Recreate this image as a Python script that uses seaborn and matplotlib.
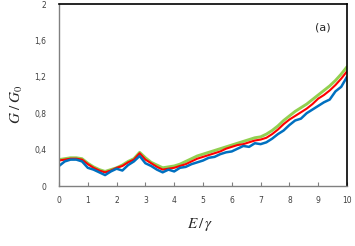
import matplotlib
matplotlib.use("Agg")
import matplotlib.pyplot as plt
import pandas as pd
import seaborn as sns

# E/gamma sample points
x_vals = [0.0, 0.2, 0.4, 0.6, 0.8, 1.0, 1.2, 1.4, 1.6, 1.8,
          2.0, 2.2, 2.4, 2.6, 2.8, 3.0, 3.2, 3.4, 3.6, 3.8,
          4.0, 4.2, 4.4, 4.6, 4.8, 5.0, 5.2, 5.4, 5.6, 5.8,
          6.0, 6.2, 6.4, 6.6, 6.8, 7.0, 7.2, 7.4, 7.6, 7.8,
          8.0, 8.2, 8.4, 8.6, 8.8, 9.0, 9.2, 9.4, 9.6, 9.8, 10.0]

g_green = [0.29, 0.30, 0.31, 0.31, 0.30, 0.25, 0.21, 0.18, 0.16, 0.18,
           0.20, 0.23, 0.27, 0.30, 0.37, 0.31, 0.26, 0.23, 0.20, 0.21,
           0.22, 0.24, 0.27, 0.30, 0.33, 0.35, 0.37, 0.39, 0.41, 0.43,
           0.45, 0.47, 0.49, 0.51, 0.53, 0.54, 0.57, 0.61, 0.66, 0.72,
           0.77, 0.82, 0.86, 0.90, 0.95, 1.00, 1.05, 1.10, 1.16, 1.23, 1.31]

g_red = [0.28, 0.29, 0.30, 0.30, 0.29, 0.24, 0.20, 0.17, 0.15, 0.17,
         0.20, 0.22, 0.26, 0.29, 0.36, 0.29, 0.25, 0.21, 0.18, 0.19,
         0.20, 0.22, 0.24, 0.27, 0.30, 0.32, 0.34, 0.36, 0.38, 0.41,
         0.43, 0.45, 0.46, 0.48, 0.50, 0.51, 0.53, 0.57, 0.62, 0.68,
         0.73, 0.77, 0.81, 0.85, 0.90, 0.96, 1.00, 1.05, 1.11, 1.18, 1.26]

g_blue = [0.22, 0.27, 0.29, 0.29, 0.27, 0.20, 0.18, 0.15, 0.12, 0.16,
          0.19, 0.17, 0.23, 0.27, 0.33, 0.25, 0.22, 0.18, 0.15, 0.18,
          0.16, 0.20, 0.21, 0.24, 0.26, 0.28, 0.31, 0.32, 0.35, 0.37,
          0.38, 0.41, 0.44, 0.43, 0.47, 0.46, 0.48, 0.52, 0.57, 0.61,
          0.67, 0.72, 0.74, 0.80, 0.84, 0.88, 0.92, 0.95, 1.04, 1.09, 1.20]

x_ticks = [0, 1, 2, 3, 4, 5, 6, 7, 8, 9, 10]
y_ticks = [0, 0.4, 0.8, 1.2, 1.6, 2.0]
y_ticklabels = ["0", "0,4", "0,8", "1,2", "1,6", "2"]

df = pd.DataFrame({
    "E": x_vals * 3,
    "G": g_green + g_red + g_blue,
    "series": ["green"] * len(x_vals) + ["red"] * len(x_vals) + ["blue"] * len(x_vals),
})

sns.set_style("white")
plt.rcParams["mathtext.fontset"] = "stix"

fig = plt.figure(figsize=(3.55, 2.46), dpi=100)
ax = fig.add_axes([59 / 355, 1 - 186 / 246, (347 - 59) / 355, (186 - 4) / 246])

widths = {"green": 2.1, "red": 1.5, "blue": 1.8}
colors = {"green": "#92D050", "red": "#FF0000", "blue": "#0070C0"}
for name in ["green", "red", "blue"]:
    sns.lineplot(data=df[df["series"] == name], x="E", y="G", color=colors[name],
                 linewidth=widths[name], ax=ax, legend=False)

ax.set_xlim(0, 10)
ax.set_ylim(0, 2)
ax.set_xticks(x_ticks)
ax.set_xticklabels([str(t) for t in x_ticks])
ax.set_yticks(y_ticks)
ax.set_yticklabels(y_ticklabels)
ax.tick_params(axis="x", direction="in", length=3, color="#808080", labelsize=5.5,
               labelcolor="#404040", pad=7, bottom=True)
ax.tick_params(axis="y", length=0, labelsize=5.5, labelcolor="#404040", pad=9)

for side in ["top", "right"]:
    ax.spines[side].set_color("black")
    ax.spines[side].set_linewidth(1.2)
for side in ["left", "bottom"]:
    ax.spines[side].set_color("#808080")
    ax.spines[side].set_linewidth(1.0)

ax.set_xlabel(r"$E\,/\,\gamma$", fontsize=11)
ax.set_ylabel(r"$G\;/\;G_0$", fontsize=11)
# label coords: top edge of x label, right edge of the rotated y label
ax.xaxis.set_label_coords((200 - 59) / (347 - 59), -(216 - 186) / (186 - 4))
ax.yaxis.set_label_coords(-(59 - 25) / (347 - 59), (186 - 104) / (186 - 4))

ax.text(0.915, 0.87, "(a)", transform=ax.transAxes, fontsize=8, ha="center", va="center")

fig.savefig("out.png", dpi=100)
